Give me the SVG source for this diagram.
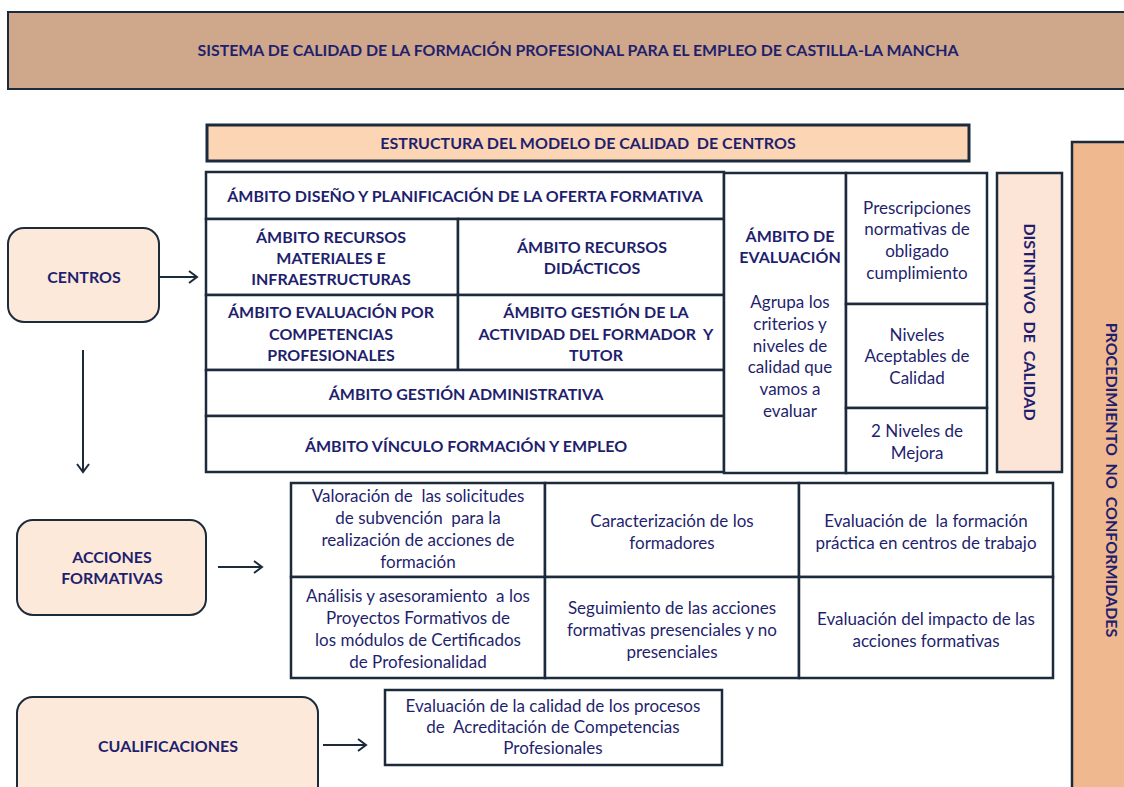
<svg xmlns="http://www.w3.org/2000/svg" width="1124" height="787" viewBox="0 0 1124 787" xml:space="preserve">
<defs>
<style>
.bx{stroke:#1c2b3c;stroke-width:2.5;fill:#fff}
.t{font-family:Lato,"Liberation Sans",sans-serif;fill:#1f1f6e;text-anchor:middle;white-space:pre}
.b{font-weight:bold;font-size:16px}
.r{font-size:17px}
.ln{stroke:#1c2b3c;stroke-width:2;fill:none}
</style>
<marker id="ar" markerUnits="userSpaceOnUse" markerWidth="14" markerHeight="14" refX="11" refY="7" orient="auto">
<path d="M3,1 L11,7 L3,13" fill="none" stroke="#1c2b3c" stroke-width="2"/>
</marker>
</defs>
<rect width="1124" height="787" fill="#fff"/>

<g id="titulo">
<rect x="8" y="12" width="1130" height="77" fill="#cfa78a" stroke="#1c2b3c" stroke-width="2"/>
<text class="t b" x="578" y="56" font-size="17" textLength="761" lengthAdjust="spacingAndGlyphs">SISTEMA DE CALIDAD DE LA FORMACIÓN PROFESIONAL PARA EL EMPLEO DE CASTILLA-LA MANCHA</text>
</g>

<g id="estructura">
<rect x="207" y="125" width="762" height="36" fill="#fcd5b5" stroke="#1c2b3c" stroke-width="3"/>
<text class="t b" x="588" y="149">ESTRUCTURA DEL MODELO DE CALIDAD  DE CENTROS</text>
</g>

<g id="ambitos">
<rect class="bx" x="206" y="172" width="518" height="47"/>
<text class="t b" x="465" y="202">ÁMBITO DISEÑO Y PLANIFICACIÓN DE LA OFERTA FORMATIVA</text>
<rect class="bx" x="206" y="219" width="252" height="76"/>
<text class="t b" x="331" y="243">ÁMBITO RECURSOS</text>
<text class="t b" x="331" y="264">MATERIALES E</text>
<text class="t b" x="331" y="285">INFRAESTRUCTURAS</text>
<rect class="bx" x="458" y="219" width="266" height="76"/>
<text class="t b" x="592" y="253">ÁMBITO RECURSOS</text>
<text class="t b" x="592" y="274">DIDÁCTICOS</text>
<rect class="bx" x="206" y="295" width="252" height="75"/>
<text class="t b" x="331" y="318">ÁMBITO EVALUACIÓN POR</text>
<text class="t b" x="331" y="340">COMPETENCIAS</text>
<text class="t b" x="331" y="361">PROFESIONALES</text>
<rect class="bx" x="458" y="295" width="266" height="75"/>
<text class="t b" x="596" y="318">ÁMBITO GESTIÓN DE LA</text>
<text class="t b" x="596" y="340">ACTIVIDAD DEL FORMADOR  Y</text>
<text class="t b" x="596" y="361">TUTOR</text>
<rect class="bx" x="206" y="370" width="518" height="46"/>
<text class="t b" x="466" y="400">ÁMBITO GESTIÓN ADMINISTRATIVA</text>
<rect class="bx" x="206" y="416" width="518" height="56"/>
<text class="t b" x="466" y="452">ÁMBITO VÍNCULO FORMACIÓN Y EMPLEO</text>
</g>

<g id="evaluacion">
<rect class="bx" x="724" y="173" width="122" height="300" stroke-width="3"/>
<text class="t b" x="790" y="242">ÁMBITO DE</text>
<text class="t b" x="790" y="263">EVALUACIÓN</text>
<text class="t r" x="790" y="308">Agrupa los</text>
<text class="t r" x="790" y="330">criterios y</text>
<text class="t r" x="790" y="352">niveles de</text>
<text class="t r" x="790" y="373">calidad que</text>
<text class="t r" x="790" y="395">vamos a</text>
<text class="t r" x="790" y="417">evaluar</text>
</g>

<g id="niveles">
<rect class="bx" x="846" y="173" width="141" height="131"/>
<text class="t r" x="917" y="214">Prescripciones</text>
<text class="t r" x="917" y="235">normativas de</text>
<text class="t r" x="917" y="257">obligado</text>
<text class="t r" x="917" y="279">cumplimiento</text>
<rect class="bx" x="846" y="304" width="141" height="104"/>
<text class="t r" x="917" y="341">Niveles</text>
<text class="t r" x="917" y="362">Aceptables de</text>
<text class="t r" x="917" y="384">Calidad</text>
<rect class="bx" x="846" y="408" width="141" height="65"/>
<text class="t r" x="917" y="437">2 Niveles de</text>
<text class="t r" x="917" y="459">Mejora</text>
</g>

<g id="distintivo">
<rect x="997" y="173" width="65" height="299" fill="#fce4d6" stroke="#1c2b3c" stroke-width="2.5"/>
<text class="t b" transform="translate(1024,322) rotate(90)">DISTINTIVO  DE  CALIDAD</text>
</g>

<g id="procedimiento">
<rect x="1072" y="142" width="60" height="660" fill="#f0b88e" stroke="#1c2b3c" stroke-width="2.5"/>
<text class="t b" transform="translate(1106,480) rotate(90)">PROCEDIMIENTO  NO  CONFORMIDADES</text>
</g>

<g id="centros">
<rect x="8" y="228" width="151" height="94" rx="16" fill="#fde9d9" stroke="#1c2b3c" stroke-width="2"/>
<text class="t b" x="84" y="283">CENTROS</text>
</g>

<g id="acciones">
<rect x="17" y="520" width="189" height="95" rx="16" fill="#fde9d9" stroke="#1c2b3c" stroke-width="2"/>
<text class="t b" x="112" y="563">ACCIONES</text>
<text class="t b" x="112" y="584">FORMATIVAS</text>
</g>

<g id="cualificaciones">
<rect x="17" y="697" width="301" height="110" rx="16" fill="#fde9d9" stroke="#1c2b3c" stroke-width="2"/>
<text class="t b" x="168" y="752">CUALIFICACIONES</text>
</g>

<g id="acciones-grid">
<rect class="bx" x="291" y="483" width="254" height="94"/>
<text class="t r" x="418" y="502">Valoración de  las solicitudes</text>
<text class="t r" x="418" y="524">de subvención  para la</text>
<text class="t r" x="418" y="546">realización de acciones de</text>
<text class="t r" x="418" y="568">formación</text>
<rect class="bx" x="545" y="483" width="254" height="94"/>
<text class="t r" x="672" y="527">Caracterización de los</text>
<text class="t r" x="672" y="549">formadores</text>
<rect class="bx" x="799" y="483" width="254" height="94"/>
<text class="t r" x="926" y="527">Evaluación de  la formación</text>
<text class="t r" x="926" y="549">práctica en centros de trabajo</text>
<rect class="bx" x="291" y="577" width="254" height="101"/>
<text class="t r" x="418" y="602">Análisis y asesoramiento  a los</text>
<text class="t r" x="418" y="624">Proyectos Formativos de</text>
<text class="t r" x="418" y="646">los módulos de Certificados</text>
<text class="t r" x="418" y="668">de Profesionalidad</text>
<rect class="bx" x="545" y="577" width="254" height="101"/>
<text class="t r" x="672" y="614">Seguimiento de las acciones</text>
<text class="t r" x="672" y="636">formativas presenciales y no</text>
<text class="t r" x="672" y="658">presenciales</text>
<rect class="bx" x="799" y="577" width="254" height="101"/>
<text class="t r" x="926" y="625">Evaluación del impacto de las</text>
<text class="t r" x="926" y="647">acciones formativas</text>
</g>

<g id="acreditacion">
<rect class="bx" x="385" y="690" width="337" height="75"/>
<text class="t r" x="553" y="712">Evaluación de la calidad de los procesos</text>
<text class="t r" x="553" y="733">de  Acreditación de Competencias</text>
<text class="t r" x="553" y="754">Profesionales</text>
</g>

<g id="conectores">
<line class="ln" x1="159" y1="277" x2="197" y2="277" marker-end="url(#ar)"/>
<line class="ln" x1="83" y1="350" x2="83" y2="472" marker-end="url(#ar)"/>
<line class="ln" x1="218" y1="567" x2="262" y2="567" marker-end="url(#ar)"/>
<line class="ln" x1="323" y1="745" x2="366" y2="745" marker-end="url(#ar)"/>
</g>
</svg>
